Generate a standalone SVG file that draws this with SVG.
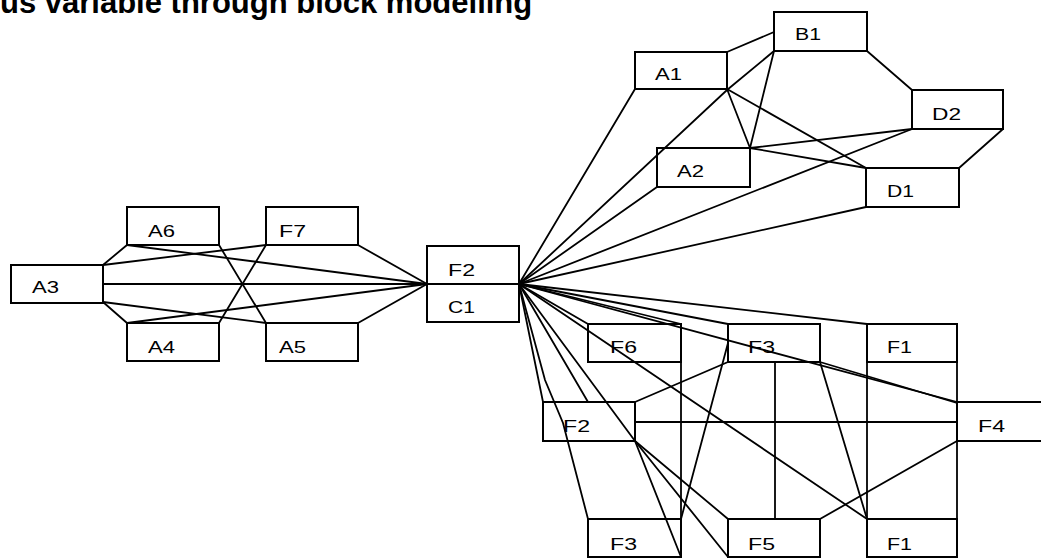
<svg xmlns="http://www.w3.org/2000/svg" width="1041" height="558" viewBox="0 0 1041 558">
<style>
.bx{fill:none;stroke:#000;stroke-width:2}
.lb{font-family:"Liberation Sans",Arial,sans-serif;font-size:17px;fill:#000}
.cn line,.cn polyline{stroke:#000;stroke-width:1.8;fill:none;stroke-linecap:round}
.ttl{font-family:"Liberation Sans",Arial,sans-serif;font-size:31px;font-weight:bold;fill:#000}
</style>
<rect x="0" y="0" width="1041" height="558" fill="#fff"/>
<text class="ttl" x="0" y="13">us variable through block modelling</text>
<g id="nodes">
<g id="A3"><rect class="bx" x="11" y="265" width="92" height="38"/><text class="lb" x="32" y="293" textLength="27" lengthAdjust="spacingAndGlyphs">A3</text></g>
<g id="A6"><rect class="bx" x="127" y="207" width="92" height="38"/><text class="lb" x="148" y="237" textLength="27" lengthAdjust="spacingAndGlyphs">A6</text></g>
<g id="F7"><rect class="bx" x="266" y="207" width="92" height="38"/><text class="lb" x="279" y="237" textLength="27" lengthAdjust="spacingAndGlyphs">F7</text></g>
<g id="A4"><rect class="bx" x="127" y="323" width="92" height="38"/><text class="lb" x="148" y="353" textLength="27" lengthAdjust="spacingAndGlyphs">A4</text></g>
<g id="A5"><rect class="bx" x="266" y="323" width="92" height="38"/><text class="lb" x="279" y="353" textLength="27" lengthAdjust="spacingAndGlyphs">A5</text></g>
<g id="F2c"><rect class="bx" x="427" y="246" width="92" height="38"/><text class="lb" x="448" y="276" textLength="27" lengthAdjust="spacingAndGlyphs">F2</text></g>
<g id="C1"><rect class="bx" x="427" y="284" width="92" height="38"/><text class="lb" x="448" y="313" textLength="27" lengthAdjust="spacingAndGlyphs">C1</text></g>
<g id="B1"><rect class="bx" x="774" y="12" width="93" height="39"/><text class="lb" x="795" y="40" textLength="26" lengthAdjust="spacingAndGlyphs">B1</text></g>
<g id="A1"><rect class="bx" x="635" y="52" width="92" height="37"/><text class="lb" x="655" y="80" textLength="27" lengthAdjust="spacingAndGlyphs">A1</text></g>
<g id="D2"><rect class="bx" x="912" y="90" width="91" height="39"/><text class="lb" x="932" y="120" textLength="29" lengthAdjust="spacingAndGlyphs">D2</text></g>
<g id="A2"><rect class="bx" x="657" y="148" width="93" height="39"/><text class="lb" x="677" y="177" textLength="27" lengthAdjust="spacingAndGlyphs">A2</text></g>
<g id="D1"><rect class="bx" x="866" y="168" width="93" height="39"/><text class="lb" x="887" y="197" textLength="27" lengthAdjust="spacingAndGlyphs">D1</text></g>
<g id="F6"><rect class="bx" x="588" y="324" width="93" height="38"/><text class="lb" x="610" y="353" textLength="27" lengthAdjust="spacingAndGlyphs">F6</text></g>
<g id="F3t"><rect class="bx" x="728" y="324" width="92" height="38"/><text class="lb" x="748" y="353" textLength="27" lengthAdjust="spacingAndGlyphs">F3</text></g>
<g id="F1t"><rect class="bx" x="867" y="324" width="90" height="38"/><text class="lb" x="887" y="353" textLength="25" lengthAdjust="spacingAndGlyphs">F1</text></g>
<g id="F2b"><rect class="bx" x="543" y="402" width="92" height="39"/><text class="lb" x="563" y="432" textLength="27" lengthAdjust="spacingAndGlyphs">F2</text></g>
<g id="F4"><rect class="bx" x="957" y="402" width="90" height="39"/><text class="lb" x="978" y="432" textLength="27" lengthAdjust="spacingAndGlyphs">F4</text></g>
<g id="F3b"><rect class="bx" x="588" y="519" width="93" height="38"/><text class="lb" x="610" y="550" textLength="27" lengthAdjust="spacingAndGlyphs">F3</text></g>
<g id="F5"><rect class="bx" x="728" y="519" width="92" height="38"/><text class="lb" x="748" y="550" textLength="27" lengthAdjust="spacingAndGlyphs">F5</text></g>
<g id="F1b"><rect class="bx" x="867" y="519" width="90" height="38"/><text class="lb" x="887" y="550" textLength="25" lengthAdjust="spacingAndGlyphs">F1</text></g>
</g>
<g id="connectors" class="cn">
<line x1="103" y1="265" x2="127" y2="245"/>
<line x1="103" y1="302" x2="127" y2="323"/>
<line x1="103" y1="284" x2="427" y2="284"/>
<line x1="103" y1="265" x2="266" y2="245"/>
<line x1="127" y1="245" x2="427" y2="284"/>
<line x1="219" y1="245" x2="266" y2="323"/>
<line x1="266" y1="245" x2="219" y2="323"/>
<line x1="103" y1="302" x2="266" y2="323"/>
<line x1="127" y1="323" x2="427" y2="284"/>
<line x1="358" y1="245" x2="427" y2="284"/>
<line x1="358" y1="323" x2="427" y2="284"/>
<line x1="519" y1="284" x2="635" y2="89"/>
<polyline points="519,284 727,90 774,51"/>
<line x1="519" y1="284" x2="657" y2="187"/>
<line x1="519" y1="284" x2="912" y2="129"/>
<line x1="519" y1="284" x2="866" y2="207"/>
<line x1="727" y1="52" x2="774" y2="32"/>
<line x1="867" y1="51" x2="912" y2="90"/>
<line x1="1003" y1="129" x2="959" y2="168"/>
<line x1="774" y1="51" x2="750" y2="148"/>
<line x1="727" y1="89" x2="750" y2="148"/>
<line x1="727" y1="89" x2="866" y2="168"/>
<line x1="750" y1="148" x2="912" y2="129"/>
<line x1="750" y1="148" x2="866" y2="168"/>
<line x1="519" y1="284" x2="867" y2="324"/>
<line x1="519" y1="284" x2="728" y2="324"/>
<line x1="519" y1="284" x2="681" y2="324"/>
<line x1="519" y1="284" x2="588" y2="324"/>
<line x1="519" y1="284" x2="957" y2="402"/>
<line x1="820" y1="362" x2="957" y2="403"/>
<line x1="519" y1="284" x2="867" y2="519"/>
<line x1="519" y1="284" x2="543" y2="402"/>
<line x1="519" y1="284" x2="588" y2="402"/>
<polyline points="519,284 545,380 563,423 588,519"/>
<line x1="519" y1="284" x2="635" y2="441"/>
<line x1="635" y1="402" x2="728" y2="362"/>
<line x1="635" y1="422" x2="957" y2="422"/>
<line x1="635" y1="441" x2="728" y2="519"/>
<line x1="635" y1="441" x2="681" y2="557"/>
<line x1="635" y1="441" x2="728" y2="557"/>
<line x1="728" y1="343" x2="681" y2="519"/>
<line x1="820" y1="362" x2="867" y2="519"/>
<line x1="957" y1="441" x2="820" y2="519"/>
<line x1="681" y1="362" x2="681" y2="519"/>
<line x1="775" y1="362" x2="775" y2="519"/>
<line x1="867" y1="362" x2="867" y2="519"/>
<line x1="957" y1="362" x2="957" y2="402"/>
<line x1="957" y1="441" x2="957" y2="519"/>
</g>
</svg>
